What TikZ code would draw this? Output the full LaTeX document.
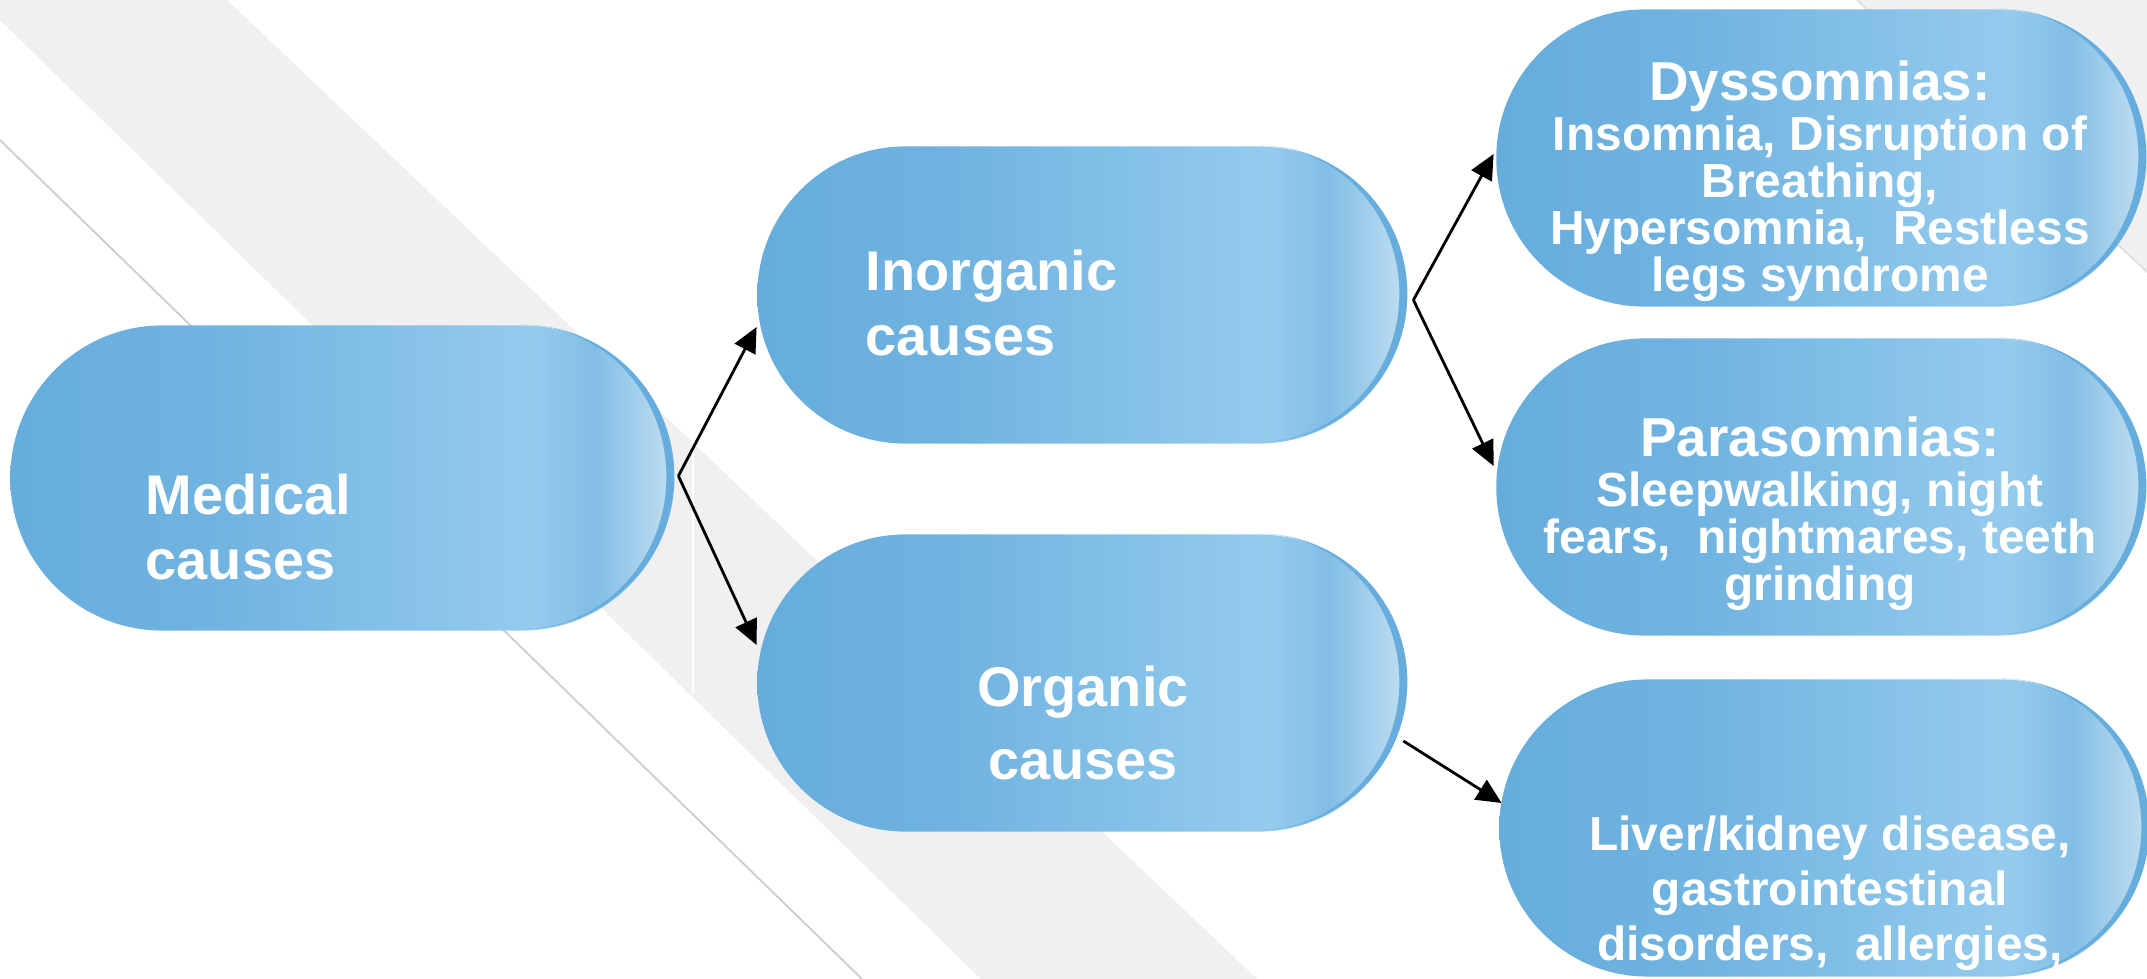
\documentclass[tikz,border=0pt]{standalone}
\usepackage{fontspec}
\setmainfont{Liberation Sans}
\usepackage{xcolor}
\usepackage{tikz}
\usetikzlibrary{arrows.meta}

\definecolor{pillA}{HTML}{66ADDC}
\definecolor{pillB}{HTML}{70B3E0}
\definecolor{pillC}{HTML}{83C0E7}
\definecolor{pillD}{HTML}{95CBED}
\definecolor{pillE}{HTML}{81BEE5}
\definecolor{pillF}{HTML}{BCDCF0}
\definecolor{rimblue}{HTML}{66ADDE}
\definecolor{bandgrey}{HTML}{F0F0F0}
\definecolor{streak}{HTML}{CDCDCD}

\pgfdeclarehorizontalshading{pillfade}{100bp}{color(0bp)=(pillA); color(25bp)=(pillA);
  color(40bp)=(pillB); color(53bp)=(pillC); color(64.5bp)=(pillD); color(69bp)=(pillE);
  color(74.5bp)=(pillF); color(100bp)=(pillF)}

\newcommand{\pillrim}[2][1.48cm]{%
  \fill[rimblue] ([xshift=-#1]#2.north east) arc[start angle=90, end angle=-90, radius=#1]
    arc[start angle=-90, end angle=90, x radius=#1-0.08cm, y radius=#1] -- cycle;}

\begin{document}
\begin{tikzpicture}[
  x=0.01cm, y=-0.01cm,
  pill/.style={rectangle, rounded corners=1.48cm, minimum width=6.49cm,
               minimum height=2.97cm, inner sep=0pt, shading=pillfade},
  bigtxt/.style={text=white, inner sep=0pt, align=left,
                 font=\fontsize{15.9}{18.5}\selectfont\bfseries},
  smalltxt/.style={text=white, inner sep=0pt, align=center,
                   font=\fontsize{13.6}{13.4}\selectfont\bfseries},
  arr/.style={-{Triangle[length=0.25cm, width=0.23cm]}, line width=0.028cm, black}
]
\useasboundingbox (0,0) rectangle (2147,979);
\clip (0,0) rectangle (2147,979);
\fill[white] (0,0) rectangle (2147,979);

% background bands
\fill[bandgrey] (0,0) -- (227,0) -- (1257,979) -- (981,979) -- (0,20) -- cycle;
\fill[bandgrey] (1857,0) -- (2147,0) -- (2147,272) -- cycle;
\draw[streak, line width=0.018cm] (0,140) -- (862,979);
\draw[streak!70, line width=0.015cm] (1857,0) -- (2147,272);
\draw[white, line width=0.02cm] (693,440) -- (693,693);

\node[pill, minimum width=6.63cm, minimum height=3.05cm, rounded corners=1.52cm] (med) at (342,478) {};
\node[pill] (inorg) at (1082,295) {};
\node[pill] (org) at (1082,683) {};
\node[pill] (dys) at (1821,158) {};
\node[pill] (para) at (1821,487) {};
\node[pill] (liver) at (1824,828) {};

\pillrim[1.52cm]{med}
\pillrim{inorg}
\pillrim{org}
\pillrim{dys}
\pillrim{para}
\pillrim{liver}

\node[bigtxt, anchor=west] (medtxt) at ([shift={(-197,49)}]med.center) {Medical\\causes};
\node[bigtxt, anchor=west] (inorgtxt) at ([shift={(-217,8)}]inorg.center) {Inorganic\\causes};
\node[bigtxt, align=center, font=\fontsize{15.9}{20.5}\selectfont\bfseries] (orgtxt)
  at ([shift={(1,40)}]org.center) {Organic\\causes};
\node[smalltxt] (dystxt) at ([shift={(-1,23)}]dys.center)
  {{\fontsize{15.6}{15.6}\selectfont Dyssomnias:}\\[0.8pt]
   Insomnia, Disruption of\\Breathing,\\Hypersomnia,\ \ Restless\\legs syndrome};
\node[smalltxt] (paratxt) at ([shift={(-1,27)}]para.center)
  {{\fontsize{15.6}{15.6}\selectfont Parasomnias:}\\[0.8pt]
   Sleepwalking, night\\fears,\ \ nightmares, teeth\\grinding};
\node[smalltxt, font=\fontsize{13.6}{15.6}\selectfont\bfseries] (livtxt)
  at ([shift={(6,65)}]liver.center)
  {Liver/kidney disease,\\gastrointestinal\\disorders,\ \ allergies,};

\draw[arr] ([shift={(4,-2)}]med.east) -- ([shift={(0,32)}]inorg.west);
\draw[arr] ([shift={(4,-2)}]med.east) -- ([shift={(0,-38)}]org.west);
\draw[arr] ([shift={(6,5)}]inorg.east) -- ([shift={(-2,-4)}]dys.west);
\draw[arr] ([shift={(6,5)}]inorg.east) -- ([shift={(-2,-21)}]para.west);
\draw[arr] ([shift={(-4,58)}]org.east) -- ([shift={(3,-25)}]liver.west);
\end{tikzpicture}
\end{document}
